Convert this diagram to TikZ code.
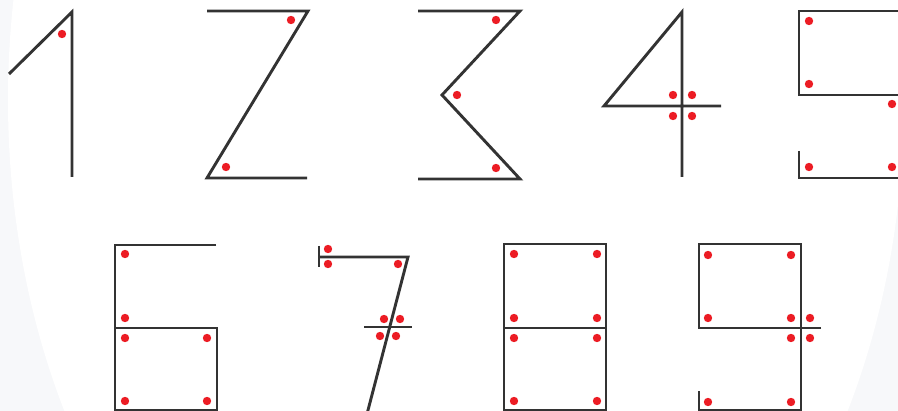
\documentclass[tikz,border=0pt]{standalone}
\usepackage{tikz}
\definecolor{stroke}{HTML}{333333}
\definecolor{dotred}{HTML}{EC1C24}
\definecolor{bggrey}{HTML}{F7F8FA}
\tikzset{
  digit/.style={draw=stroke, line width=2.9pt, line join=miter, line cap=butt},
  thin digit/.style={draw=stroke, line width=2.3pt},
  reddot/.style={fill=dotred},
}
\newcommand{\rdot}[1]{\fill[reddot] #1 circle (4.2pt);}
\begin{document}
\begin{tikzpicture}[x=1pt,y=-1pt]
\useasboundingbox (0,0) rectangle (898,411);
\clip (0,0) rectangle (898,411);
\fill[bggrey] (0,0) rectangle (898,411);
\fill[white] (456,100) ellipse [x radius=448, y radius=640];
% 1
\draw[digit] (9,74) -- (72,12) -- (72,177);
\rdot{(62,34)}
% 2
\draw[digit] (207,11) -- (308,11) -- (207,178) -- (307,178);
\rdot{(291,20)} \rdot{(226,167)}
% 3
\draw[digit] (418,11) -- (520,11) -- (442,95) -- (520,179) -- (418,179);
\rdot{(496,20)} \rdot{(457,95)} \rdot{(496,168)}
% 4
\draw[digit] (682,177) -- (682,12) -- (604,106) -- (721,106);
\rdot{(673,95)} \rdot{(692,95)} \rdot{(673,116)} \rdot{(692,116)}
% 5
\draw[digit] (900,11) -- (799,11) -- (799,95) -- (900,95);
\draw[digit] (799,151) -- (799,178) -- (900,178);
\rdot{(809,21)} \rdot{(809,84)} \rdot{(892,104)} \rdot{(809,167)} \rdot{(892,167)}
% 6
\draw[digit] (216,245) -- (115,245) -- (115,410) -- (217,410) -- (217,328) -- (115,328);
\rdot{(125,254)} \rdot{(125,318)} \rdot{(125,338)} \rdot{(207,338)} \rdot{(125,401)} \rdot{(207,401)}
% 7
\draw[thin digit] (319,246) -- (319,267);
\draw[digit] (319,257) -- (408,257) -- (367,414);
\draw[thin digit] (364,327) -- (412,327);
\rdot{(328,249)} \rdot{(328,264)} \rdot{(398,264)} \rdot{(384,319)} \rdot{(400,319)} \rdot{(380,336)} \rdot{(396,336)}
% 8
\draw[digit] (504,244) rectangle (606,410);
\draw[digit] (504,328) -- (606,328);
\rdot{(514,254)} \rdot{(597,254)} \rdot{(514,318)} \rdot{(597,318)} \rdot{(514,338)} \rdot{(597,338)} \rdot{(514,401)} \rdot{(597,401)}
% 9
\draw[digit] (821,328) -- (699,328) -- (699,244) -- (801,244) -- (801,410) -- (699,410) -- (699,391);
\rdot{(708,255)} \rdot{(791,255)} \rdot{(708,318)} \rdot{(791,318)} \rdot{(810,318)} \rdot{(791,338)} \rdot{(810,338)} \rdot{(708,402)} \rdot{(791,402)}
\end{tikzpicture}
\end{document}
